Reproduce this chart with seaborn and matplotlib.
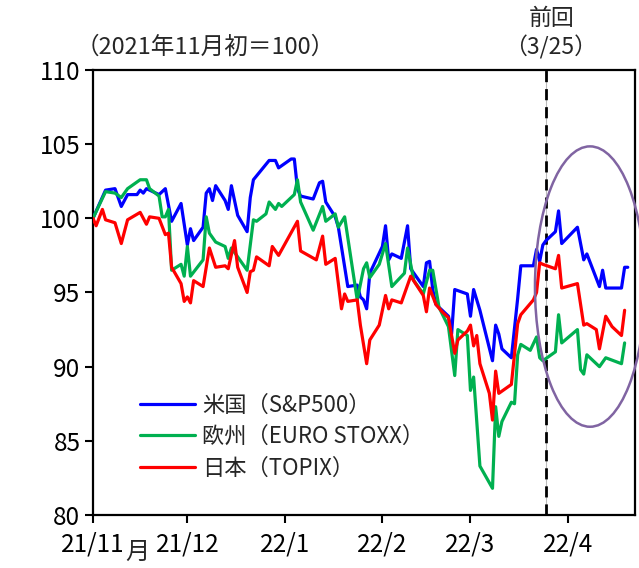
import pandas as pd
import numpy as np
import matplotlib
matplotlib.use('Agg')
import matplotlib.pyplot as plt
import matplotlib.dates as mdates
from matplotlib.patches import Ellipse
import seaborn as sns

# stock indices, 2021/11 start = 100
us_dates = ['2021-11-01', '2021-11-05', '2021-11-08', '2021-11-10', '2021-11-12', '2021-11-15',
            '2021-11-16', '2021-11-17', '2021-11-18', '2021-11-22', '2021-11-24', '2021-11-26',
            '2021-11-29', '2021-12-01', '2021-12-02', '2021-12-03', '2021-12-06', '2021-12-07',
            '2021-12-08', '2021-12-09', '2021-12-10', '2021-12-13', '2021-12-14', '2021-12-15',
            '2021-12-17', '2021-12-20', '2021-12-21', '2021-12-22', '2021-12-27', '2021-12-29',
            '2021-12-30', '2022-01-03', '2022-01-04', '2022-01-05', '2022-01-06', '2022-01-10',
            '2022-01-12', '2022-01-13', '2022-01-14', '2022-01-17', '2022-01-18', '2022-01-21',
            '2022-01-24', '2022-01-25', '2022-01-26', '2022-01-27', '2022-01-28', '2022-02-01',
            '2022-02-02', '2022-02-03', '2022-02-04', '2022-02-07', '2022-02-09', '2022-02-10',
            '2022-02-14', '2022-02-15', '2022-02-16', '2022-02-17', '2022-02-18', '2022-02-22',
            '2022-02-23', '2022-02-24', '2022-02-28', '2022-03-01', '2022-03-02', '2022-03-04',
            '2022-03-08', '2022-03-09', '2022-03-10', '2022-03-11', '2022-03-14', '2022-03-16',
            '2022-03-17', '2022-03-21', '2022-03-22', '2022-03-23', '2022-03-24', '2022-03-25',
            '2022-03-28', '2022-03-29', '2022-03-30', '2022-04-04', '2022-04-06', '2022-04-07',
            '2022-04-11', '2022-04-12', '2022-04-13', '2022-04-18', '2022-04-19', '2022-04-20']
us_values = [100.0, 101.9, 102.0, 100.8, 101.6, 101.6,
             101.9, 101.7, 102.0, 101.6, 102.0, 99.8,
             101.0, 98.2, 99.3, 98.5, 99.4, 101.7,
             102.0, 101.2, 102.2, 101.2, 100.6, 102.2,
             100.2, 99.1, 101.4, 102.6, 103.9, 103.9,
             103.4, 104.0, 104.0, 102.0, 101.5, 101.3,
             102.4, 102.5, 101.1, 100.1, 99.4, 95.4,
             95.5, 94.7, 94.5, 93.9, 96.3, 98.1,
             99.5, 97.2, 97.6, 97.3, 99.5, 96.6,
             95.4, 97.0, 97.1, 95.2, 94.2, 93.4,
             92.2, 95.2, 94.9, 93.4, 95.2, 93.8,
             90.4, 92.8, 92.2, 91.2, 90.6, 94.6,
             96.8, 96.8, 97.9, 97.1, 98.2, 98.5,
             99.1, 100.5, 98.3, 99.4, 97.2, 97.6,
             95.4, 96.5, 95.3, 95.3, 96.7, 96.7]

eu_dates = ['2021-11-01', '2021-11-05', '2021-11-08', '2021-11-10', '2021-11-12', '2021-11-16',
            '2021-11-18', '2021-11-19', '2021-11-22', '2021-11-23', '2021-11-24', '2021-11-25',
            '2021-11-26', '2021-11-29', '2021-11-30', '2021-12-01', '2021-12-02', '2021-12-06',
            '2021-12-07', '2021-12-08', '2021-12-10', '2021-12-13', '2021-12-14', '2021-12-15',
            '2021-12-20', '2021-12-22', '2021-12-23', '2021-12-26', '2021-12-27', '2021-12-29',
            '2021-12-30', '2021-12-31', '2022-01-04', '2022-01-05', '2022-01-06', '2022-01-10',
            '2022-01-13', '2022-01-14', '2022-01-17', '2022-01-18', '2022-01-20', '2022-01-24',
            '2022-01-26', '2022-01-27', '2022-01-28', '2022-01-31', '2022-02-02', '2022-02-04',
            '2022-02-08', '2022-02-09', '2022-02-11', '2022-02-14', '2022-02-16', '2022-02-17',
            '2022-02-19', '2022-02-22', '2022-02-24', '2022-02-25', '2022-02-28', '2022-03-01',
            '2022-03-02', '2022-03-04', '2022-03-08', '2022-03-09', '2022-03-10', '2022-03-11',
            '2022-03-14', '2022-03-15', '2022-03-16', '2022-03-17', '2022-03-20', '2022-03-22',
            '2022-03-23', '2022-03-24', '2022-03-28', '2022-03-29', '2022-03-30', '2022-04-04',
            '2022-04-05', '2022-04-06', '2022-04-07', '2022-04-11', '2022-04-13', '2022-04-18',
            '2022-04-19']
eu_values = [100.0, 101.8, 101.7, 101.4, 102.0, 102.6,
             102.6, 102.0, 101.5, 100.1, 100.1, 100.6,
             96.5, 96.9, 96.1, 98.1, 96.1, 97.2,
             100.1, 99.0, 98.4, 98.1, 97.3, 98.0,
             96.5, 99.9, 99.8, 100.3, 101.1, 100.6,
             101.0, 100.8, 101.6, 102.6, 101.1, 99.2,
             100.8, 99.8, 100.3, 99.4, 100.1, 94.5,
             96.6, 97.0, 96.0, 96.9, 98.3, 95.4,
             96.3, 98.0, 95.8, 94.9, 96.5, 96.5,
             94.0, 92.7, 89.4, 92.5, 92.1, 88.4,
             89.3, 83.3, 81.8, 87.3, 85.3, 86.3,
             87.6, 87.5, 90.8, 91.5, 91.1, 92.0,
             90.6, 90.4, 91.0, 93.5, 91.6, 92.5,
             89.8, 89.5, 90.8, 90.0, 90.6, 90.2,
             91.6]

jp_dates = ['2021-11-01', '2021-11-02', '2021-11-04', '2021-11-05', '2021-11-08', '2021-11-10',
            '2021-11-12', '2021-11-16', '2021-11-18', '2021-11-19', '2021-11-22', '2021-11-24',
            '2021-11-25', '2021-11-26', '2021-11-29', '2021-11-30', '2021-12-01', '2021-12-02',
            '2021-12-03', '2021-12-06', '2021-12-08', '2021-12-10', '2021-12-13', '2021-12-14',
            '2021-12-16', '2021-12-17', '2021-12-20', '2021-12-21', '2021-12-22', '2021-12-23',
            '2021-12-27', '2021-12-28', '2021-12-30', '2022-01-05', '2022-01-06', '2022-01-11',
            '2022-01-13', '2022-01-14', '2022-01-17', '2022-01-19', '2022-01-20', '2022-01-21',
            '2022-01-24', '2022-01-25', '2022-01-27', '2022-01-28', '2022-01-31', '2022-02-02',
            '2022-02-03', '2022-02-04', '2022-02-07', '2022-02-10', '2022-02-14', '2022-02-15',
            '2022-02-16', '2022-02-18', '2022-02-20', '2022-02-22', '2022-02-24', '2022-02-25',
            '2022-02-28', '2022-03-01', '2022-03-02', '2022-03-03', '2022-03-04', '2022-03-07',
            '2022-03-08', '2022-03-09', '2022-03-10', '2022-03-14', '2022-03-16', '2022-03-17',
            '2022-03-21', '2022-03-22', '2022-03-23', '2022-03-24', '2022-03-28', '2022-03-29',
            '2022-03-30', '2022-04-04', '2022-04-06', '2022-04-07', '2022-04-10', '2022-04-11',
            '2022-04-13', '2022-04-15', '2022-04-18', '2022-04-19']
jp_values = [100.0, 99.5, 100.6, 99.9, 99.7, 98.3,
             99.9, 100.4, 99.6, 100.1, 100.0, 98.9,
             99.0, 96.7, 95.6, 94.4, 94.7, 94.3,
             95.8, 95.4, 98.0, 96.7, 96.8, 96.6,
             98.5, 96.7, 95.0, 96.4, 96.5, 97.4,
             96.8, 98.1, 97.5, 99.8, 97.8, 97.2,
             98.8, 96.9, 97.3, 93.9, 94.9, 94.4,
             94.5, 92.8, 90.2, 91.8, 92.8, 94.8,
             93.9, 94.5, 94.3, 96.1, 94.8, 93.7,
             95.3, 94.2, 93.7, 93.3, 90.9, 91.8,
             92.4, 92.8, 91.4, 92.1, 90.2, 88.2,
             86.4, 89.7, 88.2, 88.8, 92.9, 93.5,
             94.5, 95.0, 97.0, 96.9, 96.6, 97.5,
             95.3, 95.6, 92.8, 92.9, 92.5, 91.2,
             93.4, 92.7, 92.1, 93.8]

series_names = ['米国（S&P500）', '欧州（EURO STOXX）', '日本（TOPIX）']
series_colors = ['#0000FF', '#00B050', '#FF0000']
month_ticks = ['2021-11-01', '2021-12-01', '2022-01-01', '2022-02-01', '2022-03-01', '2022-04-01']
month_labels = ['21/11', '21/12', '22/1', '22/2', '22/3', '22/4']
y_ticks = [80, 85, 90, 95, 100, 105, 110]
prev_date = '2022-03-25'

sns.set_theme(style='white')
plt.rcParams['font.family'] = ['Noto Sans CJK JP', 'DejaVu Sans']

fig = plt.figure(figsize=(6.39, 5.68), dpi=100)
ax = fig.add_axes([0.1455, 0.0933, 0.848, 0.7835])

for name, color, d, v in zip(series_names, series_colors,
                             [us_dates, eu_dates, jp_dates],
                             [us_values, eu_values, jp_values]):
    frame = pd.DataFrame({'date': pd.to_datetime(d), 'value': v})
    sns.lineplot(data=frame, x='date', y='value', color=color, linewidth=2.3,
                 label=name, ax=ax, zorder=3)

# previous meeting marker
px = pd.Timestamp(prev_date)
ax.axvline(px, color='#BBBBBB', linewidth=0.8, zorder=1)
ax.axvline(px, color='black', linewidth=2, linestyle=(0, (4, 2.5)), zorder=2)

ax.set_xlim(pd.Timestamp('2021-11-01'), pd.Timestamp('2022-04-22 06:00'))
ax.set_ylim(80, 110)
ax.set_yticks(y_ticks)
ax.set_yticklabels([str(t) for t in y_ticks])
ax.set_xticks(pd.to_datetime(month_ticks))
ax.set_xticklabels(month_labels)
ax.set_xlabel('')
ax.set_ylabel('')
ax.tick_params(axis='both', which='major', labelsize=17.5, length=6, width=1.5,
               direction='out', color='black', labelcolor='black', pad=3)
ax.tick_params(axis='x', pad=6)
ax.xaxis.set_ticks_position('bottom')
ax.yaxis.set_ticks_position('left')
for s in ax.spines.values():
    s.set_color('black')
    s.set_linewidth(1.6)

# highlight ellipse
cx = mdates.date2num(pd.Timestamp('2022-04-08'))
ell = Ellipse((cx, 95.4), width=35, height=18.9, fill=False, edgecolor='#8064A2',
              linewidth=1.8, clip_on=False, zorder=4)
ax.add_patch(ell)

leg = ax.legend(loc='lower left', bbox_to_anchor=(0.07, 0.06), frameon=False,
                fontsize=16, handlelength=2.5, handletextpad=0.3, labelspacing=0.38,
                borderaxespad=0)

fig.text(76 / 639, 1 - 47 / 568, '（2021年11月初＝100）', fontsize=17, ha='left', va='center')
fig.text(552 / 639, 1 - 18 / 568, '前回', fontsize=16.5, ha='center', va='center')
fig.text(551 / 639, 1 - 47 / 568, '（3/25）', fontsize=16.5, ha='center', va='center')
fig.text(137 / 639, 1 - 552 / 568, '月', fontsize=17.5, ha='center', va='center')

fig.savefig('out.png', dpi=100)
